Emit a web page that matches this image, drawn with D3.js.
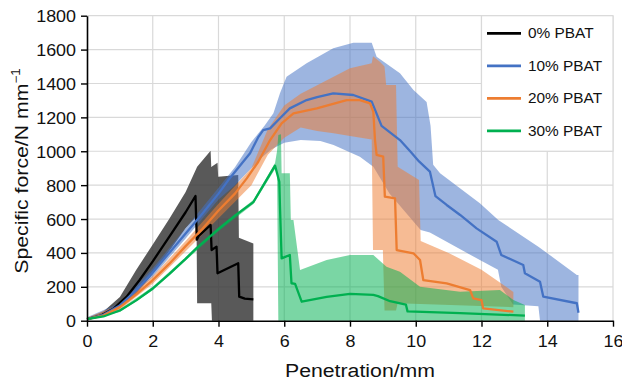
<!DOCTYPE html>
<html>
<head>
<meta charset="utf-8">
<script src="https://cdn.jsdelivr.net/npm/d3@7"></script>
<style>
  body { margin: 0; background: #fff; }
  svg { display: block; font-family: "Liberation Sans", Arial, Helvetica, sans-serif; }
</style>
</head>
<body>
<div id="chart"></div>
<script>
// ---- data ----
const seriesNames = ['0% PBAT', '10% PBAT', '20% PBAT', '30% PBAT'];
const xTicks = [0, 2, 4, 6, 8, 10, 12, 14, 16];
const yTicks = [0, 200, 400, 600, 800, 1000, 1200, 1400, 1600, 1800];

// 0% PBAT
const blackX = [0, 0.4, 0.8, 1.2, 1.6, 2, 2.5, 3, 3.3, 3.34, 3.4, 3.76, 3.79, 3.94, 3.97, 4.6, 4.63, 4.8, 5.06];
const blackY = [10, 28, 70, 140, 240, 350, 495, 640, 736, 478, 500, 565, 417, 437, 280, 339, 142, 130, 126];
const blackBandX = [0, 0.5, 1, 1.5, 2, 2.5, 3, 3.33, 3.35, 3.76, 3.78, 3.8, 3.97, 3.99, 4.6, 4.62, 5.06];
const blackBandLo = [5, 30, 75, 160, 275, 410, 545, 615, 103, 103, 103, 0, 0, 0, 0, 0, 0];
const blackBandHi = [15, 55, 140, 300, 450, 600, 760, 900, 909, 1003, 905, 910, 932, 850, 860, 490, 455];

// 10% PBAT
const blueX = [0, 0.5, 1, 1.5, 2, 2.5, 3, 3.5, 4, 4.3, 4.96, 5.2, 5.36, 5.57, 5.87, 6.17, 6.68, 7.0, 7.49, 8.1, 8.66, 8.96, 9.52, 9.83, 10.1, 10.43, 10.6, 10.94, 11.35, 11.85, 12.46, 12.6, 13.27, 13.32, 13.78, 13.88, 14.9, 14.95];
const blueY = [10, 35, 90, 180, 285, 400, 515, 630, 750, 830, 988, 1080, 1125, 1135, 1195, 1253, 1302, 1320, 1342, 1332, 1293, 1150, 1066, 1000, 940, 880, 735, 683, 624, 545, 466, 388, 329, 280, 230, 142, 103, 47];
const blueBandX = [0, 1, 2, 3, 4, 4.5, 5.0, 5.4, 5.67, 5.87, 6.07, 6.68, 7.49, 8.1, 8.66, 8.81, 9.52, 9.93, 10.33, 10.45, 10.53, 10.74, 11.95, 12.51, 13.73, 14.9, 14.95];
const blueBandHi = [20, 105, 310, 545, 785, 905, 1055, 1150, 1224, 1342, 1440, 1519, 1608, 1641, 1641, 1558, 1460, 1362, 1290, 1150, 920, 870, 693, 594, 437, 270, 270];
const blueBandLoX = [0, 1, 2, 3, 4, 4.5, 5.0, 5.3, 5.6, 6.0, 6.5, 7.1, 7.5, 8.3, 8.71, 9.2, 10.15, 10.43, 11.95, 12.5, 12.6, 12.96, 13.73, 13.78, 14.95];
const blueBandLo = [0, 75, 260, 485, 715, 800, 900, 960, 1010, 1050, 1066, 1060, 1037, 968, 909, 750, 535, 520, 358, 300, 200, 95, 85, 0, 0];

// 20% PBAT
const orangeX = [0, 0.5, 1, 1.5, 2, 2.5, 3, 3.5, 4, 4.5, 4.86, 5.21, 5.57, 5.92, 6.28, 6.99, 7.9, 8.3, 8.61, 8.71, 8.76, 8.81, 9.01, 9.06, 9.37, 9.42, 9.93, 10.13, 10.23, 10.94, 11.65, 11.75, 12.0, 12.05, 12.97];
const orangeY = [10, 30, 80, 155, 240, 335, 440, 540, 650, 750, 840, 938, 1066, 1165, 1224, 1253, 1302, 1302, 1283, 1233, 1066, 978, 968, 732, 722, 417, 398, 358, 240, 220, 181, 132, 122, 73, 53];
const orangeBandX = [0, 1, 2, 3, 4, 5, 5.5, 6, 6.5, 7, 7.5, 8, 8.66, 8.7, 8.9, 9.05, 9.1, 9.4, 9.45, 10.1, 10.15, 11, 12, 12.97];
const orangeBandHi = [18, 95, 262, 470, 690, 900, 1130, 1270, 1340, 1390, 1440, 1490, 1519, 1560, 1530, 1500, 1391, 1391, 909, 830, 470, 400, 300, 170];
const orangeBandLoX = [0, 1, 2, 3, 4, 5, 5.5, 6, 6.5, 7, 7.5, 8, 8.66, 8.7, 9.0, 9.05, 9.4, 9.45, 12.97];
const orangeBandLo = [2, 65, 218, 410, 605, 800, 980, 1080, 1140, 1120, 1106, 1090, 1070, 417, 417, 60, 60, 103, 80];

// 30% PBAT
const greenX = [0, 0.5, 1, 1.5, 2, 2.5, 3, 3.34, 4, 4.5, 5.06, 5.72, 5.85, 5.87, 5.92, 6.17, 6.22, 6.33, 6.53, 7.29, 8.0, 8.71, 8.85, 9.22, 9.7, 9.75, 11.35, 13.32];
const greenY = [10, 25, 60, 120, 190, 275, 365, 430, 540, 620, 700, 915, 820, 673, 368, 388, 221, 217, 112, 140, 158, 152, 145, 115, 95, 55, 45, 30];
const greenBandX = [0, 1, 2, 3, 4, 5.06, 5.72, 5.78, 5.82, 5.9, 5.92, 6.0, 6.17, 6.2, 6.28, 6.48, 7.29, 8.0, 8.71, 9.11, 9.52, 10.13, 11.35, 12.56, 12.97, 13.32];
const greenBandHi = [14, 68, 200, 375, 552, 712, 930, 1000, 1096, 1100, 870, 870, 870, 594, 594, 299, 358, 388, 388, 319, 289, 201, 171, 181, 122, 93];
const greenBandLoX = [0, 1, 2, 3, 4, 5.06, 5.72, 5.78, 5.82, 13.32];
const greenBandLo = [6, 52, 180, 355, 528, 688, 895, 890, 0, 0];

const lineColors = ['#000000', '#4472c4', '#ed7d31', '#00b050'];
const bandColors = ['#3c3c3c', '#4472c4', '#ed7d31', '#00b050'];
const bandOpacity = [0.85, 0.52, 0.52, 0.52];

// ---- layout ----
const width = 622, height = 385;
const margin = { top: 15.7, right: 9, bottom: 64.3, left: 87 };
const stretch = 1.12; // glyphs in the figure are a bit wider than Liberation Sans

const svg = d3.select('#chart').append('svg')
  .attr('width', width)
  .attr('height', height);

const x = d3.scaleLinear().domain([0, 16]).range([margin.left, width - margin.right]);
const y = d3.scaleLinear().domain([0, 1800]).range([height - margin.bottom, margin.top]);

// merge a hi edge and a lo edge (may have different x) into one polygon path
function bandPath(hx, hy, lx, ly) {
  const top = hx.map((d, i) => [x(d), y(hy[i])]);
  const bottom = lx.map((d, i) => [x(d), y(ly[i])]).reverse();
  return d3.line()(top.concat(bottom)) + 'Z';
}

function linePath(xs, ys) {
  return d3.line().x((d, i) => x(xs[i])).y(d => y(d))(ys);
}

// grid
const grid = svg.append('g').attr('stroke', '#d9d9d9').attr('stroke-width', 1.2);
grid.selectAll('line.v').data(xTicks.slice(1)).enter().append('line')
  .attr('x1', d => x(d)).attr('x2', d => x(d))
  .attr('y1', y(0)).attr('y2', y(1800));
grid.selectAll('line.h').data(yTicks.slice(1)).enter().append('line')
  .attr('x1', x(0)).attr('x2', x(16))
  .attr('y1', d => y(d)).attr('y2', d => y(d));

// bands
const bands = [
  [blackBandX, blackBandHi, blackBandX, blackBandLo],
  [blueBandX, blueBandHi, blueBandLoX, blueBandLo],
  [orangeBandX, orangeBandHi, orangeBandLoX, orangeBandLo],
  [greenBandX, greenBandHi, greenBandLoX, greenBandLo]
];
svg.append('g').selectAll('path').data(bands).enter().append('path')
  .attr('d', d => bandPath(d[0], d[1], d[2], d[3]))
  .attr('fill', (d, i) => bandColors[i])
  .attr('fill-opacity', (d, i) => bandOpacity[i]);

// mean lines
const lines = [[blackX, blackY], [blueX, blueY], [orangeX, orangeY], [greenX, greenY]];
svg.append('g').selectAll('path').data(lines).enter().append('path')
  .attr('d', d => linePath(d[0], d[1]))
  .attr('fill', 'none')
  .attr('stroke', (d, i) => lineColors[i])
  .attr('stroke-width', 2.3)
  .attr('stroke-linejoin', 'round');

// axes
const xAxis = svg.append('g')
  .attr('transform', `translate(0,${y(0)})`)
  .call(d3.axisBottom(x).tickValues(xTicks).tickSize(6).tickSizeOuter(0).tickFormat(d3.format('d')));
xAxis.select('.domain').attr('stroke', '#000').attr('stroke-width', 1.6);
xAxis.selectAll('.tick line').attr('stroke', '#000').attr('stroke-width', 1.4);
xAxis.selectAll('.tick text')
  .attr('y', 0).attr('dy', 0)
  .attr('transform', `translate(0,26) scale(${stretch},1)`)
  .attr('font-size', 16).attr('fill', '#111');

const yAxis = svg.append('g')
  .attr('transform', `translate(${x(0)},0)`)
  .call(d3.axisLeft(y).tickValues(yTicks).tickSize(6).tickSizeOuter(0).tickFormat(d3.format('d')));
yAxis.select('.domain').attr('stroke', '#000').attr('stroke-width', 1.6);
yAxis.selectAll('.tick line').attr('stroke', '#000').attr('stroke-width', 1.4);
yAxis.selectAll('.tick text')
  .attr('x', 0).attr('dy', 0)
  .attr('transform', `translate(-11,6) scale(${stretch},1)`)
  .attr('font-size', 16).attr('fill', '#111');

// axis titles
svg.append('text')
  .attr('transform', `translate(${(x(0) + x(16)) / 2 + 10},377) scale(${stretch},1)`)
  .attr('text-anchor', 'middle')
  .attr('font-size', 19).attr('fill', '#111')
  .text('Penetration/mm');

const yTitle = svg.append('text')
  .attr('transform', `translate(27.5,171) rotate(-90) scale(${stretch},1)`)
  .attr('text-anchor', 'middle')
  .attr('font-size', 19).attr('fill', '#111');
yTitle.append('tspan').text('Specific force/N mm');
yTitle.append('tspan').attr('font-size', 12).attr('dy', -8).text('\u22121');

// legend
const legend = svg.append('g');
legend.append('rect')
  .attr('x', x(12)).attr('y', y(1800))
  .attr('width', x(16) - x(12)).attr('height', y(1000) - y(1800))
  .attr('fill', '#fff').attr('stroke', '#d9d9d9').attr('stroke-width', 1.2);
const item = legend.selectAll('g.item').data(seriesNames).enter().append('g')
  .attr('transform', (d, i) => `translate(487,${33.3 + i * 32.5})`);
item.append('line')
  .attr('x1', 0).attr('x2', 34)
  .attr('stroke', (d, i) => lineColors[i]).attr('stroke-width', 2.8);
item.append('text')
  .attr('transform', `translate(41,5) scale(${1.1},1)`)
  .attr('font-size', 14).attr('fill', '#111')
  .text(d => d);
</script>
</body>
</html>
